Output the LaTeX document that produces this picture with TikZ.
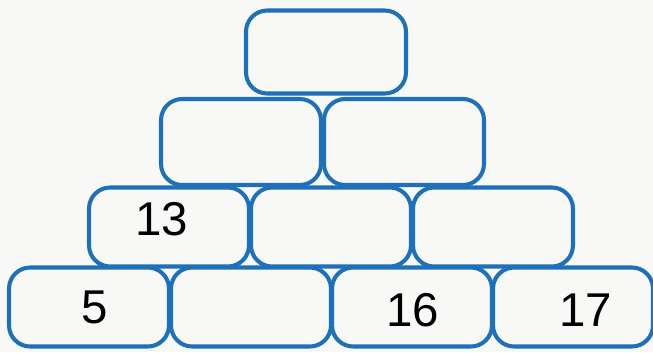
\documentclass[tikz,border=0pt]{standalone}
\usepackage{fontspec}
\setmainfont{Liberation Sans}
\usepackage{tikz}
\usetikzlibrary{positioning}
\definecolor{cellblue}{RGB}{30,112,184}
\definecolor{paper}{RGB}{248,248,247}

\begin{document}
\begin{tikzpicture}[x=0.02cm,y=-0.02cm,
  cell/.style={rectangle,draw=cellblue,line width=2.3pt,rounded corners=12pt,minimum width=3.2cm,minimum height=1.58cm,inner sep=0pt},
  num/.style={font=\fontsize{27}{32}\selectfont,inner sep=0pt}
]
\fill[paper] (0,0) rectangle (653,352);
\useasboundingbox (0,0) rectangle (653,352);
% top
\node[cell,minimum height=1.66cm] (top) at (326,52) {};
% second row
\node[cell,minimum height=1.72cm] (m1) at (241,142) {};
\node[cell,minimum height=1.72cm] (m2) at (404,142) {};
% third row
\node[cell] (r1) at (169,227) {};
\node[cell] (r2) at (331,227) {};
\node[cell] (r3) at (493,227) {};
% bottom row
\node[cell] (b1) at (89,307) {};
\node[cell] (b2) at (251,307) {};
\node[cell] (b3) at (412,307) {};
\node[cell] (b4) at (573,307) {};
% numbers
\node[num] (n13) at (162,219) {13};
\node[num] (n5) at (95,307) {5};
\node[num] (n16) at (413,310) {16};
\node[num] (n17) at (586,310) {17};
\end{tikzpicture}
\end{document}
